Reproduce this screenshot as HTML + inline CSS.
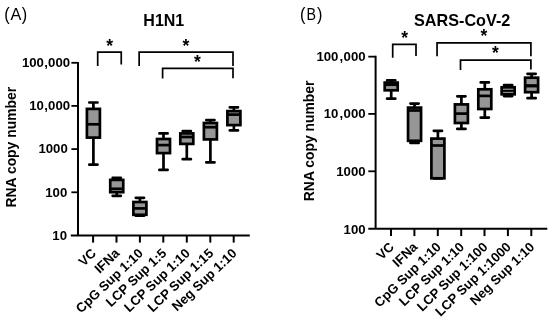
<!DOCTYPE html>
<html><head><meta charset="utf-8"><title>Figure</title>
<style>
html,body{margin:0;padding:0;background:#fff;}
body{width:550px;height:321px;overflow:hidden;font-family:"Liberation Sans",sans-serif;}
svg{display:block;will-change:transform;}
text{font-family:"Liberation Sans",sans-serif;fill:#000;}
.tl{font-size:13.2px;font-weight:bold;}
.xl{font-size:13.2px;font-weight:bold;}
.yl{font-size:13.9px;font-weight:bold;}
.ti{font-size:16px;font-weight:bold;}
.pl{font-size:16.6px;}
.pp{font-size:18.5px;}
.st{font-size:17.5px;font-weight:bold;}
</style></head><body>
<svg width="550" height="321" viewBox="0 0 550 321">
<g stroke="#000" stroke-width="2.0" fill="none">
<path d="M78.0 61.9V235.5"/>
<path d="M70.8 235.5H249.8"/>
<path d="M71.4 62.8H78.0" stroke-width="1.8"/>
<path d="M71.4 105.9H78.0" stroke-width="1.8"/>
<path d="M71.4 149.1H78.0" stroke-width="1.8"/>
<path d="M71.4 192.3H78.0" stroke-width="1.8"/>
<path d="M93.1 235.5V242.6"/>
<path d="M116.5 235.5V242.6"/>
<path d="M139.9 235.5V242.6"/>
<path d="M163.3 235.5V242.6"/>
<path d="M186.8 235.5V242.6"/>
<path d="M210.3 235.5V242.6"/>
<path d="M233.7 235.5V242.6"/>
</g>
<text x="70.1" y="67.05" text-anchor="end" class="tl">100<tspan dx="0.3">,</tspan><tspan dx="0.2">000</tspan></text>
<text x="70.1" y="110.15" text-anchor="end" class="tl">10<tspan dx="0.3">,</tspan><tspan dx="0.2">000</tspan></text>
<text x="67.8" y="153.35" text-anchor="end" class="tl">1000</text>
<text x="67.3" y="196.55" text-anchor="end" class="tl">100</text>
<text x="67.0" y="239.75" text-anchor="end" class="tl">10</text>
<text transform="translate(97.00 254.30) rotate(-43.5)" text-anchor="end" class="xl">VC</text>
<text transform="translate(120.40 254.30) rotate(-43.5)" text-anchor="end" class="xl">IFNa</text>
<text transform="translate(143.80 254.30) rotate(-43.5)" text-anchor="end" class="xl">CpG Sup 1:10</text>
<text transform="translate(167.20 254.30) rotate(-43.5)" text-anchor="end" class="xl">LCP Sup 1:5</text>
<text transform="translate(190.70 254.30) rotate(-43.5)" text-anchor="end" class="xl">LCP Sup 1:10</text>
<text transform="translate(214.20 254.30) rotate(-43.5)" text-anchor="end" class="xl">LCP Sup 1:15</text>
<text transform="translate(237.60 254.30) rotate(-43.5)" text-anchor="end" class="xl">Neg Sup 1:10</text>
<g stroke="#000" stroke-width="2.7" fill="none">
<path d="M93.40 102.50V108.90M93.40 137.60V164.70" />
<path d="M89.30 102.50H97.50M89.30 164.70H97.50" stroke-linecap="round"/>
<rect x="86.90" y="108.90" width="13.00" height="28.70" fill="#969696"/>
<path d="M86.90 124.30H99.90"/>
<path d="M116.75 177.80V179.90M116.75 192.20V195.80" />
<path d="M112.65 177.80H120.85M112.65 195.80H120.85" stroke-linecap="round"/>
<rect x="110.25" y="179.90" width="13.00" height="12.30" fill="#969696"/>
<path d="M110.25 188.80H123.25"/>
<path d="M139.90 197.80V202.00M139.90 214.80V215.70" />
<path d="M135.80 197.80H144.00M135.80 215.70H144.00" stroke-linecap="round"/>
<rect x="133.40" y="202.00" width="13.00" height="12.80" fill="#969696"/>
<path d="M133.40 208.40H146.40"/>
<path d="M163.50 133.40V139.00M163.50 153.10V169.90" />
<path d="M159.40 133.40H167.60M159.40 169.90H167.60" stroke-linecap="round"/>
<rect x="157.00" y="139.00" width="13.00" height="14.10" fill="#969696"/>
<path d="M157.00 145.10H170.00"/>
<path d="M186.80 131.00V133.40M186.80 143.90V159.20" />
<path d="M182.70 131.00H190.90M182.70 159.20H190.90" stroke-linecap="round"/>
<rect x="180.30" y="133.40" width="13.00" height="10.50" fill="#969696"/>
<path d="M180.30 137.00H193.30"/>
<path d="M210.40 120.10V123.00M210.40 139.40V162.40" />
<path d="M206.30 120.10H214.50M206.30 162.40H214.50" stroke-linecap="round"/>
<rect x="203.90" y="123.00" width="13.00" height="16.40" fill="#969696"/>
<path d="M203.90 127.20H216.90"/>
<path d="M233.90 107.30V111.10M233.90 125.10V130.40" />
<path d="M229.80 107.30H238.00M229.80 130.40H238.00" stroke-linecap="round"/>
<rect x="227.40" y="111.10" width="13.00" height="14.00" fill="#969696"/>
<path d="M227.40 114.60H240.40"/>
</g>
<g stroke="#000" stroke-width="1.7" fill="none">
<path d="M97.7 66.0V52.2H121.25V64.5"/>
<path d="M139.15 66.0V52.2H233.0V66.1"/>
<path d="M162.6 78.5V68.3H233.0V78.3"/>
</g>
<text x="109.6" y="52.4" text-anchor="middle" class="st">*</text>
<text x="185.8" y="51.6" text-anchor="middle" class="st">*</text>
<text x="197.5" y="67.9" text-anchor="middle" class="st">*</text>
<text x="163.8" y="26.3" text-anchor="middle" class="ti">H1N1</text>
<text transform="translate(6.95 20.0) scale(0.88 1)" text-anchor="middle" class="pp">(</text><text transform="translate(16.0 19.6) scale(0.98 1)" text-anchor="middle" class="pl">A</text><text transform="translate(24.5 20.0) scale(0.88 1)" text-anchor="middle" class="pp">)</text>
<text transform="translate(15.7 147.2) rotate(-90)" text-anchor="middle" class="yl">RNA copy number</text>
<g stroke="#000" stroke-width="2.0" fill="none">
<path d="M375.6 55.75V228.85"/>
<path d="M368.3 228.85H547.3"/>
<path d="M368.3 56.65H375.6" stroke-width="1.8"/>
<path d="M368.3 113.9H375.6" stroke-width="1.8"/>
<path d="M368.3 171.3H375.6" stroke-width="1.8"/>
<path d="M391.0 228.85V236.1"/>
<path d="M414.4 228.85V236.1"/>
<path d="M437.8 228.85V236.1"/>
<path d="M461.2 228.85V236.1"/>
<path d="M484.5 228.85V236.1"/>
<path d="M507.9 228.85V236.1"/>
<path d="M531.3 228.85V236.1"/>
</g>
<text x="365.6" y="60.90" text-anchor="end" class="tl">100<tspan dx="1.0">,</tspan><tspan dx="0.5">000</tspan></text>
<text x="365.6" y="118.15" text-anchor="end" class="tl">10<tspan dx="1.0">,</tspan><tspan dx="0.5">000</tspan></text>
<text x="365.6" y="176.35" text-anchor="end" class="tl">1000</text>
<text x="365.6" y="233.50" text-anchor="end" class="tl">100</text>
<text transform="translate(394.90 247.80) rotate(-44.1)" text-anchor="end" class="xl">VC</text>
<text transform="translate(418.30 247.80) rotate(-44.1)" text-anchor="end" class="xl">IFNa</text>
<text transform="translate(441.70 247.80) rotate(-44.1)" text-anchor="end" class="xl">CpG Sup 1:10</text>
<text transform="translate(465.10 247.80) rotate(-44.1)" text-anchor="end" class="xl">LCP Sup 1:10</text>
<text transform="translate(488.40 247.80) rotate(-44.1)" text-anchor="end" class="xl">LCP Sup 1:100</text>
<text transform="translate(511.80 247.80) rotate(-44.1)" text-anchor="end" class="xl">LCP Sup 1:1000</text>
<text transform="translate(535.20 247.80) rotate(-44.1)" text-anchor="end" class="xl">Neg Sup 1:10</text>
<g stroke="#000" stroke-width="2.7" fill="none">
<path d="M391.20 80.40V82.60M391.20 90.30V98.70" />
<path d="M387.10 80.40H395.30M387.10 98.70H395.30" stroke-linecap="round"/>
<rect x="384.70" y="82.60" width="13.00" height="7.70" fill="#969696"/>
<path d="M384.70 84.70H397.70"/>
<path d="M414.55 103.60V107.60M414.55 140.80V142.90" />
<path d="M410.45 103.60H418.65M410.45 142.90H418.65" stroke-linecap="round"/>
<rect x="408.05" y="107.60" width="13.00" height="33.20" fill="#969696"/>
<path d="M408.05 110.50H421.05"/>
<path d="M437.90 130.80V138.60M437.90 178.30V178.30" />
<path d="M433.80 130.80H442.00M433.80 178.30H442.00" stroke-linecap="round"/>
<rect x="431.40" y="138.60" width="13.00" height="39.70" fill="#969696"/>
<path d="M431.40 145.50H444.40"/>
<path d="M461.40 96.30V104.40M461.40 123.00V128.90" />
<path d="M457.30 96.30H465.50M457.30 128.90H465.50" stroke-linecap="round"/>
<rect x="454.90" y="104.40" width="13.00" height="18.60" fill="#969696"/>
<path d="M454.90 113.60H467.90"/>
<path d="M484.80 82.40V89.30M484.80 109.00V117.60" />
<path d="M480.70 82.40H488.90M480.70 117.60H488.90" stroke-linecap="round"/>
<rect x="478.30" y="89.30" width="13.00" height="19.70" fill="#969696"/>
<path d="M478.30 95.90H491.30"/>
<path d="M508.15 85.05V87.30M508.15 94.30V96.05" />
<path d="M504.05 85.05H512.25M504.05 96.05H512.25" stroke-linecap="round"/>
<rect x="501.65" y="87.30" width="13.00" height="7.00" fill="#969696"/>
<path d="M501.65 90.85H514.65" stroke-width="2.0"/>
<path d="M531.60 73.80V77.70M531.60 92.20V98.20" />
<path d="M527.50 73.80H535.70M527.50 98.20H535.70" stroke-linecap="round"/>
<rect x="525.10" y="77.70" width="13.00" height="14.50" fill="#969696"/>
<path d="M525.10 85.80H538.10" stroke-width="3.3"/>
</g>
<g stroke="#000" stroke-width="1.7" fill="none">
<path d="M392.7 57.8V44.3H416.0V56.1"/>
<path d="M437.05 56.2V42.9H530.9V56.3"/>
<path d="M460.5 70V60.1H530.9V69.5"/>
</g>
<text x="404.6" y="43.9" text-anchor="middle" class="st">*</text>
<text x="483.8" y="42.2" text-anchor="middle" class="st">*</text>
<text x="495.3" y="59.2" text-anchor="middle" class="st">*</text>
<text x="462.2" y="26.3" text-anchor="middle" style="font-size:16.2px" class="ti">SARS-CoV-2</text>
<text transform="translate(302.7 20.0) scale(0.88 1)" text-anchor="middle" class="pp">(</text><text transform="translate(311.15 19.6) scale(0.86 1)" text-anchor="middle" class="pl">B</text><text transform="translate(319.7 20.0) scale(0.88 1)" text-anchor="middle" class="pp">)</text>
<text transform="translate(313.5 140.85) rotate(-90)" text-anchor="middle" class="yl">RNA copy number</text>
</svg>
</body></html>
